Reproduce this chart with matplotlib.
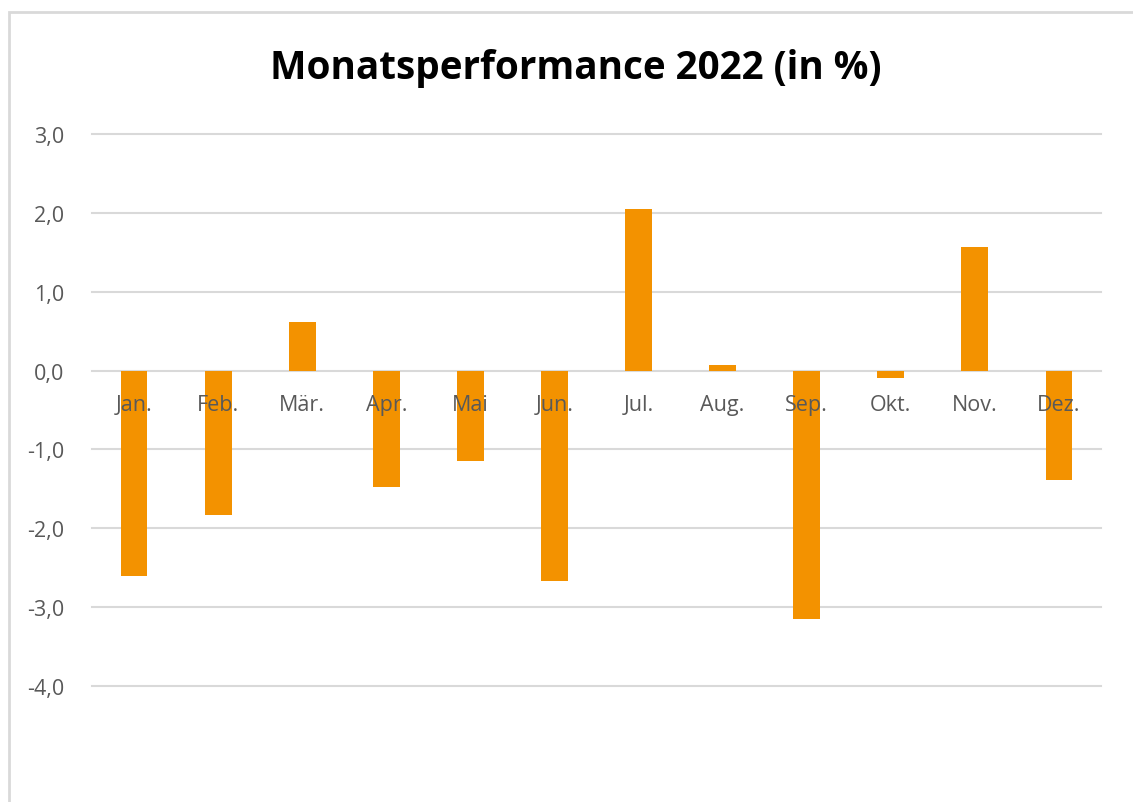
import matplotlib
matplotlib.use("Agg")
import matplotlib.pyplot as plt
from matplotlib.patches import Rectangle

months = ["Jan.", "Feb.", "Mär.", "Apr.", "Mai", "Jun.", "Jul.", "Aug.", "Sep.", "Okt.", "Nov.", "Dez."]
values = [-2.60, -1.83, 0.62, -1.48, -1.15, -2.67, 2.05, 0.07, -3.15, -0.09, 1.57, -1.39]
yticks = [3, 2, 1, 0, -1, -2, -3, -4]
ytick_labels = ["3,0", "2,0", "1,0", "0,0", "-1,0", "-2,0", "-3,0", "-4,0"]
title = "Monatsperformance 2022 (in %)"

W, H = 1133, 803
fig = plt.figure(figsize=(W / 100, H / 100), dpi=100)
fig.patch.set_facecolor("white")

# outer chart frame (only left & top visible)
fig.add_artist(Rectangle((9 / W, -0.05), 1.2, (H - 13) / H + 0.05, transform=fig.transFigure,
                         fill=False, edgecolor="#d9d9d9", linewidth=2))

ax = fig.add_axes([92 / W, 1 - 687 / H, (1101 - 92) / W, (687 - 135) / H])
ax.set_xlim(-0.5, len(months) - 0.5)
ax.set_ylim(-4, 3)
for s in ax.spines.values():
    s.set_visible(False)
for y in yticks:
    ax.axhline(y, color="#d9d9d9", linewidth=1.5, zorder=1, clip_on=False)

x = list(range(len(months)))
ax.bar(x, values, width=0.32, color="#F39200", zorder=2)

ax.set_yticks(yticks)
ax.set_yticklabels(ytick_labels, fontsize=15.5, color="#595959", family="Open Sans")
ax.tick_params(axis="y", length=0, pad=20)
ax.set_xticks([])
for xi, m in zip(x, months):
    ax.text(xi, -0.43, m, ha="center", va="center", fontsize=15.5, color="#595959",
            family="Open Sans", zorder=3)

fig.text(576 / W, 1 - 68 / H, title, ha="center", va="center", fontsize=27.8,
         fontweight="bold", family="Open Sans", color="black")

fig.savefig("out.png", dpi=100)
